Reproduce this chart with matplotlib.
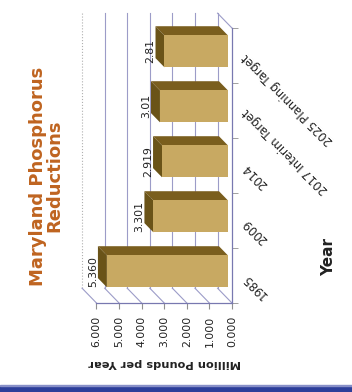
import numpy as np
import matplotlib
matplotlib.use("Agg")
from matplotlib import pyplot as plt
from matplotlib.patches import Polygon, Rectangle

# data
categories = ['1985', '2009', '2014', '2017 Interim Target', '2025 Planning Target']
values = [5.360, 3.301, 2.919, 3.01, 2.81]
value_labels = ['5.360', '3.301', '2.919', '3.01', '2.81']
value_ticks = [0, 1, 2, 3, 4, 5, 6]
value_ticklabels = ['0.000', '1.000', '2.000', '3.000', '4.000', '5.000', '6.000']

# look of the (rotated) 3-D column chart
front_col = '#c8a962'
top_col = '#6a5318'
side_col = '#7a5e1e'
grid_col = '#9c9cc8'
axis_col = '#7878b0'
title_col = '#bf6420'
DX, DY = 0.64, 0.27        # depth of the walls in data units
T0, T1 = 0.28, 0.90        # bar depth (fraction of wall depth)
BH = 0.58                  # bar height

fig = plt.figure(figsize=(3.52, 3.92), dpi=100)
fig.patch.set_facecolor('white')
ax = fig.add_axes([0.2741, 0.2270, 0.3849, 0.7015])
ax.set_xlim(6, 0)
ax.set_ylim(-0.5, 4.5)
ax.set_facecolor('none')

ypos = np.arange(len(categories))

# back wall gridlines
for v in value_ticks:
    ls = ':' if v == 6 else '-'
    c = '#b0b0b0' if v == 6 else grid_col
    ax.plot([v + DX, v + DX], [-0.5 + DY, 4.5 + DY], color=c, lw=0.8, ls=ls,
            clip_on=False, zorder=1)
    # side wall (bottom) diagonals
    ax.plot([v, v + DX], [-0.5, -0.5 + DY], color=grid_col, lw=0.8,
            clip_on=False, zorder=1)
# floor top edge
ax.plot([0, DX], [4.5, 4.5 + DY], color=grid_col, lw=0.8, clip_on=False, zorder=1)

# bars: front face with barh, top and side faces as polygons
ax.barh(ypos + T0 * DY, values, height=BH, left=T0 * DX, color=front_col,
        edgecolor='none', zorder=3)
for y, v, lab in zip(ypos, values, value_labels):
    yb = y - BH / 2
    yt = y + BH / 2
    top = [(v + T0 * DX, yb + T0 * DY), (v + T0 * DX, yt + T0 * DY),
           (v + T1 * DX, yt + T1 * DY), (v + T1 * DX, yb + T1 * DY)]
    side = [(T0 * DX, yt + T0 * DY), (v + T0 * DX, yt + T0 * DY),
            (v + T1 * DX, yt + T1 * DY), (T1 * DX, yt + T1 * DY)]
    ax.add_patch(Polygon(side, closed=True, color=side_col, lw=0, zorder=2,
                         clip_on=False))
    ax.add_patch(Polygon(top, closed=True, color=top_col, lw=0, zorder=2,
                         clip_on=False))
    ax.text(v + T1 * DX, y + T0 * DY, lab, rotation=90, ha='right', va='center',
            fontsize=7.8, color='#222222', zorder=4)

# axes
for s in ['top', 'left']:
    ax.spines[s].set_visible(False)
ax.spines['right'].set_color(axis_col)
ax.spines['bottom'].set_color(axis_col)
ax.spines['right'].set_linewidth(0.9)
ax.spines['bottom'].set_linewidth(0.9)

ax.set_xticks(value_ticks)
ax.set_xticklabels(value_ticklabels, rotation=90, fontsize=7.8, color='#222222')
ax.tick_params(axis='x', length=4, pad=5, color='#909090')

ax.yaxis.tick_right()
ax.set_yticks(ypos)
ax.set_yticklabels(categories, fontsize=8.4, color='#222222')
ax.set_yticks(np.arange(-0.5, 5, 1), minor=True)
ax.tick_params(axis='y', which='major', length=0, pad=9)
ax.tick_params(axis='y', which='minor', length=4, color='#909090')
for t in ax.get_yticklabels():
    t.set_rotation(135)
    t.set_rotation_mode('anchor')
    t.set_ha('right')
    t.set_va('center')

ax.set_xlabel('Million Pounds per Year', rotation=180, fontsize=8.2,
              fontweight='bold', color='#222222', labelpad=8)
ax.yaxis.set_label_position('right')
ax.set_ylabel('Year', rotation=90, fontsize=11, fontweight='bold', color='#222222')
ax.yaxis.set_label_coords(1.657, 0.167)

fig.text(0.1307, 0.551, 'Maryland Phosphorus\nReductions', rotation=90,
         ha='center', va='center', multialignment='center', fontsize=13,
         fontweight='bold', color=title_col, linespacing=0.92)

# blue band at the bottom
fig.patches.append(Rectangle((0, 0), 1, 0.0153, transform=fig.transFigure,
                             color='#2c3e9a', zorder=0))
fig.patches.append(Rectangle((0, 0.0153), 1, 0.003, transform=fig.transFigure,
                             color='#8890c8', zorder=0))

fig.savefig('out.png', dpi=100)
